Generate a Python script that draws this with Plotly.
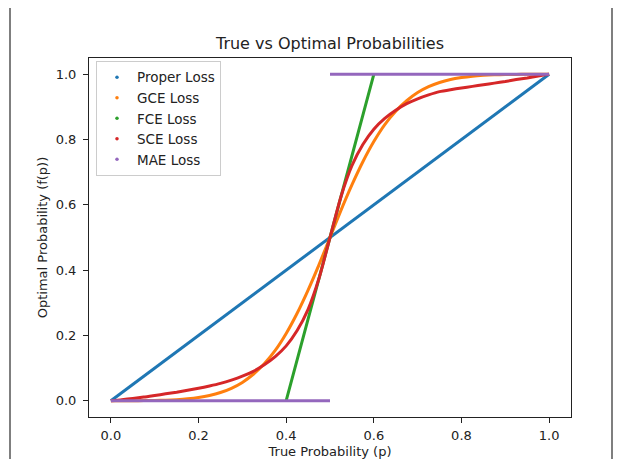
import plotly.graph_objects as go

# ---- data ----
p_grid = [0.0, 0.025, 0.05, 0.075, 0.1, 0.125, 0.15, 0.175, 0.2, 0.225, 0.25,
          0.275, 0.3, 0.325, 0.35, 0.375, 0.4, 0.425, 0.45, 0.475, 0.5,
          0.525, 0.55, 0.575, 0.6, 0.625, 0.65, 0.675, 0.7, 0.725, 0.75,
          0.775, 0.8, 0.825, 0.85, 0.875, 0.9, 0.925, 0.95, 0.975, 1.0]

proper_p = [0.0, 1.0]
proper_f = [0.0, 1.0]

gce_f = [0.0, 0.0, 0.0001, 0.0002, 0.0007, 0.0015, 0.0031, 0.0057, 0.0098, 0.016, 0.025,
         0.038, 0.056, 0.081, 0.113, 0.154, 0.206, 0.268, 0.339, 0.417, 0.5,
         0.583, 0.661, 0.732, 0.794, 0.846, 0.887, 0.919, 0.944, 0.962, 0.975,
         0.984, 0.990, 0.9943, 0.9969, 0.9985, 0.9993, 0.9998, 0.9999, 1.0, 1.0]

fce_p = [0.4, 0.5, 0.6]
fce_f = [0.0, 0.5, 1.0]

sce_f = [0.0, 0.003, 0.007, 0.011, 0.016, 0.021, 0.026, 0.032, 0.038, 0.045, 0.053,
         0.063, 0.075, 0.09, 0.11, 0.135, 0.168, 0.215, 0.28, 0.375, 0.5,
         0.625, 0.72, 0.785, 0.832, 0.865, 0.89, 0.91, 0.925, 0.937, 0.947,
         0.953, 0.958, 0.963, 0.968, 0.973, 0.978, 0.984, 0.989, 0.995, 1.0]

mae_p = [0.0, 0.5, None, 0.5, 1.0]
mae_f = [0.0, 0.0, None, 1.0, 1.0]

names = ["Proper Loss", "GCE Loss", "FCE Loss", "SCE Loss", "MAE Loss"]
colors = ["#1f77b4", "#ff7f0e", "#2ca02c", "#d62728", "#9467bd"]
tick_vals = [0.0, 0.2, 0.4, 0.6, 0.8, 1.0]

series = [
    (proper_p, proper_f),
    (p_grid, gce_f),
    (fce_p, fce_f),
    (p_grid, sce_f),
    (mae_p, mae_f),
]

fig = go.Figure()
for (xs, ys), name, c in zip(series, names, colors):
    fig.add_trace(go.Scatter(x=xs, y=ys, mode="lines", name=name,
                             line=dict(color=c, width=3, shape="spline", smoothing=0.6),
                             showlegend=False, hoverinfo="skip"))
# legend entries: small dots like matplotlib scatter markers
for name, c in zip(names, colors):
    fig.add_trace(go.Scatter(x=[None], y=[None], mode="markers", name=name,
                             marker=dict(color=c, size=3.5)))

font_family = "DejaVu Sans"
axis_common = dict(
    range=[-0.05, 1.05], tickvals=tick_vals, tickformat=".1f",
    showgrid=False, zeroline=False, showline=True, linecolor="#222",
    linewidth=1, mirror=True, ticks="outside", ticklen=5, tickcolor="#222",
    tickfont=dict(size=13, color="#222", family=font_family),
    automargin=False,
)

# page body adds an 8px offset; figure is sized/placed to compensate and to avoid overflow
W, H = 605, 451
L, R, T, B = 81, 42, 50, 42
PW = W - L - R
PH = H - T - B

fig.update_layout(
    width=W, height=H, autosize=False,
    margin=dict(l=L, r=R, t=T, b=B, autoexpand=False),
    paper_bgcolor="white", plot_bgcolor="white",
    font=dict(family=font_family, color="#222"),
    title=dict(text="True vs Optimal Probabilities", x=0.5, xref="paper",
               y=1 - 35 / H, yref="container", yanchor="middle",
               font=dict(size=16, color="#222", family=font_family)),
    xaxis=dict(**axis_common, ticklabelstandoff=1,
               title=dict(text="True Probability (p)", standoff=6,
                          font=dict(size=13, color="#222", family=font_family))),
    yaxis=dict(**axis_common, ticklabelstandoff=4,
               title=dict(text="Optimal Probability (f(p))", standoff=5,
                          font=dict(size=13, color="#222", family=font_family))),
    legend=dict(x=0.0145, y=0.992, xanchor="left", yanchor="top",
                bgcolor="rgba(255,255,255,0.85)", bordercolor="#cccccc", borderwidth=1,
                entrywidth=90, entrywidthmode="pixels",
                font=dict(size=13.5, color="#222", family=font_family)),
    shapes=[
        dict(type="line", xref="paper", yref="paper",
             x0=(2 - L) / PW, x1=(2 - L) / PW, y0=-0.3, y1=(T + PH) / PH,
             line=dict(color="#555", width=1.5), layer="below"),
        dict(type="line", xref="paper", yref="paper",
             x0=(W - 1 - L) / PW, x1=(W - 1 - L) / PW, y0=-0.3, y1=(T + PH) / PH,
             line=dict(color="#555", width=1.5), layer="below"),
    ],
)

fig.write_html("out.html")
